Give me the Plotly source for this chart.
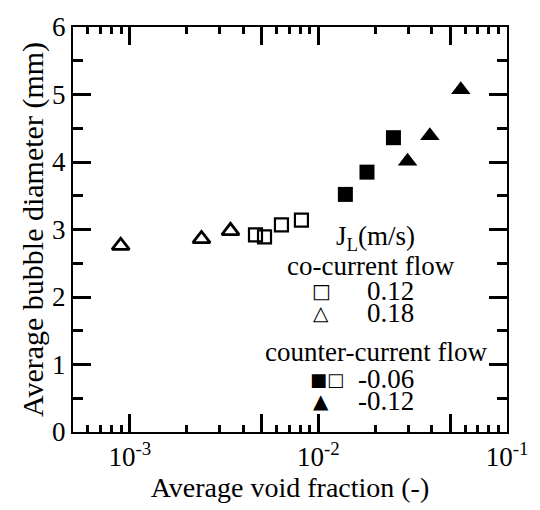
import plotly.graph_objects as go

# Data
co_012_x = [4.64e-3, 5.18e-3, 6.37e-3, 8.13e-3]
co_012_y = [2.92, 2.89, 3.07, 3.14]
co_018_x = [8.95e-4, 2.40e-3, 3.42e-3]
co_018_y = [2.76, 2.86, 2.98]
cc_006_x = [0.0139, 0.0181, 0.0250]
cc_006_y = [3.52, 3.85, 4.36]
cc_012_x = [0.0297, 0.0390, 0.0569]
cc_012_y = [4.01, 4.39, 5.07]

x_major = [1e-3, 5e-3, 1e-2, 5e-2, 1e-1]
x_major_text = ["10<sup>-3</sup>", "", "10<sup>-2</sup>", "", "10<sup>-1</sup>"]
x_minor = [6e-4, 7e-4, 8e-4, 9e-4,
           2e-3, 3e-3, 4e-3, 6e-3, 7e-3, 8e-3, 9e-3,
           2e-2, 3e-2, 4e-2, 6e-2, 7e-2, 8e-2, 9e-2]
y_major = [0, 1, 2, 3, 4, 5, 6]
y_minor = [0.5, 1.5, 2.5, 3.5, 4.5, 5.5]

FONT = "Liberation Serif"
TICK = "black"
L, R, T, B = 73, 32, 21, 76
W, H = 540, 510
PW, PH = W - L - R, H - T - B
XR = [-3.301, -1]
YR = [0, 6]

fig = go.Figure()
fig.add_trace(go.Scatter(x=co_012_x, y=co_012_y, mode="markers",
                         marker=dict(symbol="square-open", size=13, color="black",
                                     line=dict(width=2.2, color="black"))))
fig.add_trace(go.Scatter(x=co_018_x, y=co_018_y, mode="markers",
                         marker=dict(symbol="triangle-up-open", size=15, color="black",
                                     line=dict(width=2.8, color="black"))))
fig.add_trace(go.Scatter(x=cc_006_x, y=cc_006_y, mode="markers",
                         marker=dict(symbol="square", size=15, color="black",
                                     line=dict(width=0))))
fig.add_trace(go.Scatter(x=cc_012_x, y=cc_012_y, mode="markers",
                         marker=dict(symbol="triangle-up", size=17, color="black",
                                     line=dict(width=0))))
# invisible trace so the minor-tick axes are drawn
fig.add_trace(go.Scatter(x=[], y=[], xaxis="x2", yaxis="y2", showlegend=False,
                         hoverinfo="skip"))


def px(xp):
    return (xp - L) / PW


def py(yp):
    return (H - B - yp) / PH


ann = []


def text(s, x, y, anchor="center", size=27, family=FONT):
    ann.append(dict(text=s, x=px(x), y=py(y), xref="paper", yref="paper",
                    xanchor=anchor, yanchor="middle", showarrow=False,
                    font=dict(family=family, size=size, color="black")))


SYM = "DejaVu Sans"
text("J<sub>L</sub>(m/s)", 376, 236)
text("co-current flow", 372, 265)
text("\u25a1", 322, 290, size=20, family=SYM)
text("0.12", 417, 290, anchor="right")
text("\u25b3", 322, 313, size=20, family=SYM)
text("0.18", 417, 313, anchor="right")
text("counter-current flow", 377, 352)
text("\u25a0\u25a1", 328, 380, size=18, family=SYM)
text("-0.06", 417, 380, anchor="right")
text("\u25b2", 322, 402, size=20, family=SYM)
text("-0.12", 417, 402, anchor="right")

fig.update_layout(
    width=W, height=H,
    margin=dict(l=L, r=R, t=T, b=B),
    paper_bgcolor="white", plot_bgcolor="white",
    showlegend=False,
    font=dict(family=FONT, size=26, color="black"),
    annotations=ann,
    xaxis=dict(type="log", range=XR,
               tickmode="array", tickvals=x_major, ticktext=x_major_text,
               ticks="inside", ticklen=18, tickwidth=2.5, tickcolor=TICK,
               showline=True, linewidth=2, linecolor="black", mirror="ticks",
               showgrid=False, zeroline=False,
               tickfont=dict(family=FONT, size=27),
               title=dict(text="Average void fraction (-)", standoff=6,
                          font=dict(family=FONT, size=28))),
    xaxis2=dict(type="log", range=XR, overlaying="x", anchor="y", side="bottom",
                tickmode="array", tickvals=x_minor, showticklabels=False,
                ticks="inside", ticklen=7, tickwidth=2.5, tickcolor=TICK,
                showline=False, mirror="ticks", showgrid=False, zeroline=False),
    yaxis=dict(range=YR,
               tickmode="array", tickvals=y_major,
               ticks="inside", ticklen=18, tickwidth=2.5, tickcolor=TICK,
               showline=True, linewidth=2, linecolor="black", mirror="ticks",
               showgrid=False, zeroline=False,
               tickfont=dict(family=FONT, size=27),
               title=dict(text="Average bubble diameter (mm)", standoff=0,
                          font=dict(family=FONT, size=30))),
    yaxis2=dict(range=YR, overlaying="y", anchor="x", side="left",
                tickmode="array", tickvals=y_minor, showticklabels=False,
                ticks="inside", ticklen=10, tickwidth=2.5, tickcolor=TICK,
                showline=False, mirror="ticks", showgrid=False, zeroline=False),
)

fig.write_html("out.html")
